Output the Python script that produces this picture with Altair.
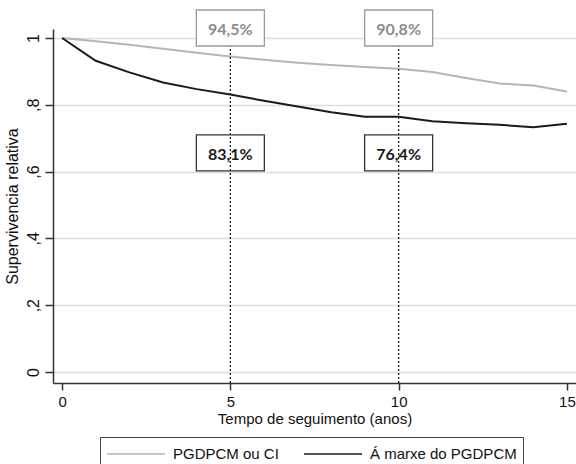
import altair as alt
import pandas as pd

# ---- data ----
years = list(range(16))
serie_names = ["PGDPCM ou CI", "Á marxe do PGDPCM"]
gray_vals = [1.000, 0.990, 0.980, 0.968, 0.956, 0.945, 0.935, 0.926, 0.919,
             0.913, 0.908, 0.898, 0.880, 0.864, 0.858, 0.840]
black_vals = [1.000, 0.932, 0.897, 0.867, 0.847, 0.831, 0.812, 0.795, 0.778,
              0.764, 0.764, 0.751, 0.745, 0.740, 0.733, 0.743]
mark_years = [5, 10]
y_ticks = [0, 0.2, 0.4, 0.6, 0.8, 1.0]
x_ticks = [0, 5, 10, 15]

GRAY = "#b5b5b5"
BLACK = "#1a1a1a"
FONT = "Liberation Sans"

rows = []
for t, g, b in zip(years, gray_vals, black_vals):
    rows.append({"t": t, "v": g, "serie": serie_names[0]})
    rows.append({"t": t, "v": b, "serie": serie_names[1]})
df = pd.DataFrame(rows)


def pct(v):
    return f"{v * 100:.1f}%".replace(".", ",")


top_df = pd.DataFrame({"t": mark_years, "y": [1.03, 1.03],
                       "txt": [pct(gray_vals[y]) for y in mark_years]})
bot_df = pd.DataFrame({"t": mark_years, "y": [0.656, 0.656],
                       "txt": [pct(black_vals[y]) for y in mark_years]})
rule_df = pd.DataFrame({"t": mark_years, "y0": [-0.033, -0.033], "y1": [1.03, 1.03]})

xs = alt.Scale(domain=[-0.27, 15.27], nice=False, zero=False)
ys = alt.Scale(domain=[-0.033, 1.027], nice=False, zero=False)

x_axis = alt.Axis(values=x_ticks, title="Tempo de seguimento (anos)", grid=False,
                  tickSize=7, labelPadding=4, titlePadding=2, labelFontSize=15,
                  titleFontSize=15, labelFont=FONT, titleFont=FONT,
                  titleFontWeight="normal", labelColor="#111", titleColor="#111",
                  domainColor="#333", tickColor="#333", domainWidth=1.5, tickWidth=1.5,
                  labelFlush=False)
y_axis = alt.Axis(values=y_ticks, title="Supervivencia relativa", grid=True,
                  gridColor="#dedede", gridWidth=1.5, tickSize=8, labelPadding=4,
                  labelAngle=-90, labelAlign="center", labelBaseline="bottom",
                  labelExpr="datum.value == 0 ? '0' : datum.value == 1 ? '1' : replace(format(datum.value, '.1f'), '0.', ',')",
                  titlePadding=5, labelFontSize=16, titleFontSize=16, labelFont=FONT,
                  titleFont=FONT, titleFontWeight="normal", labelColor="#111",
                  titleColor="#111", domainColor="#333", tickColor="#333",
                  domainWidth=1.5, tickWidth=1.5)

# wide, flat legend stroke symbol: drawn 58px long while the entry stays 20px tall
LEG_SYM = "M-1,0L4.8,0"

lines = alt.Chart(df).mark_line(strokeWidth=2).encode(
    x=alt.X("t:Q", scale=xs, axis=x_axis),
    y=alt.Y("v:Q", scale=ys, axis=y_axis),
    color=alt.Color("serie:N",
                    scale=alt.Scale(domain=serie_names, range=[GRAY, BLACK]),
                    sort=serie_names,
                    legend=alt.Legend(title=None, orient="none", legendX=47, legendY=408,
                                      direction="horizontal", symbolType=LEG_SYM,
                                      symbolSize=400, symbolStrokeWidth=1.5,
                                      labelFontSize=15, labelFont=FONT, labelColor="#111",
                                      labelOffset=45, columnPadding=22, padding=6,
                                      strokeColor="#444", fillColor="white")),
)

rules = alt.Chart(rule_df).mark_rule(color=BLACK, strokeDash=[2, 2], strokeWidth=1.3).encode(
    x=alt.X("t:Q", scale=xs), y=alt.Y("y0:Q", scale=ys), y2="y1:Q"
)

BOX = "M-1,-0.53L1,-0.53L1,0.53L-1,0.53Z"
top_box = alt.Chart(top_df).mark_point(shape=BOX, size=4624, filled=True, fill="white",
                                        stroke="#9a9a9a", strokeWidth=1.3, opacity=1).encode(
    x=alt.X("t:Q", scale=xs), y=alt.Y("y:Q", scale=ys)
)
bot_box = alt.Chart(bot_df).mark_point(shape=BOX, size=4624, filled=False,
                                        stroke="#333", strokeWidth=1.3, opacity=1).encode(
    x=alt.X("t:Q", scale=xs), y=alt.Y("y:Q", scale=ys)
)
top_txt = alt.Chart(top_df).mark_text(font="Lato", fontSize=16, fontWeight="bold",
                                       color="#8c8c8c", baseline="middle", dy=2).encode(
    x=alt.X("t:Q", scale=xs), y=alt.Y("y:Q", scale=ys), text="txt:N"
)
bot_txt = alt.Chart(bot_df).mark_text(font="Lato", fontSize=16, fontWeight="bold",
                                       color=BLACK, baseline="middle", dy=2).encode(
    x=alt.X("t:Q", scale=xs), y=alt.Y("y:Q", scale=ys), text="txt:N"
)

chart = alt.layer(lines, rules, top_box, bot_box, top_txt, bot_txt).properties(
    width=523, height=354,
    padding={"left": 53, "top": 29, "right": 0, "bottom": 81},
    autosize=alt.AutoSizeParams(type="none"),
    background="white",
).configure_view(strokeWidth=0)

chart.save("out.html", embed_options={"renderer": "svg", "actions": False})
